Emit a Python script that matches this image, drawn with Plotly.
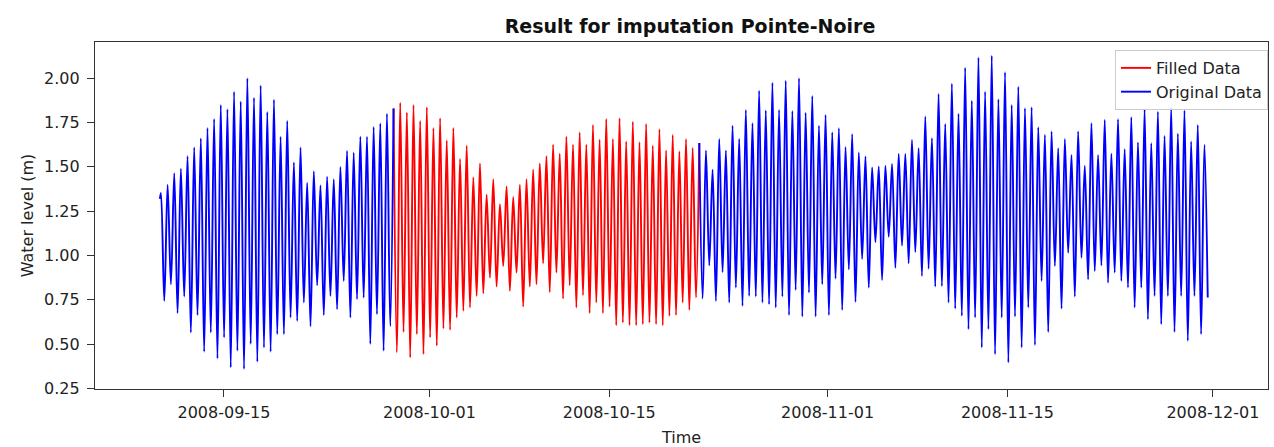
import pandas as pd
import plotly.graph_objects as go

# ---- data ----
# successive high-water levels (m), one per semi-diurnal tidal cycle
high_levels = [
    1.353, 1.40, 1.465, 1.49, 1.56, 1.61, 1.66, 1.72, 1.77, 1.85,
    1.825, 1.925, 1.87, 2.00, 1.89, 1.96, 1.81, 1.88, 1.67, 1.76,
    1.525, 1.61, 1.41, 1.475, 1.395, 1.445, 1.43, 1.50, 1.59, 1.58,
    1.67, 1.67, 1.725, 1.745, 1.80, 1.83,
    1.863, 1.807, 1.85, 1.76, 1.837, 1.72, 1.775, 1.65, 1.72, 1.545,
    1.62, 1.44, 1.52, 1.343, 1.43, 1.29, 1.39, 1.33, 1.40, 1.43,
    1.485, 1.52, 1.56, 1.625, 1.575, 1.67, 1.625, 1.695, 1.625, 1.737,
    1.653, 1.77, 1.657, 1.775, 1.643, 1.755, 1.64, 1.743, 1.62, 1.713,
    1.593, 1.68, 1.587, 1.657, 1.607, 1.635,
    1.593, 1.484, 1.657, 1.593, 1.732, 1.658, 1.822, 1.747, 1.93, 1.818,
    1.975, 1.822, 1.987, 1.816, 2.00, 1.806, 1.90, 1.732, 1.793, 1.694,
    1.719, 1.612, 1.685, 1.581, 1.559, 1.497, 1.503, 1.506, 1.517, 1.574,
    1.574, 1.653, 1.606, 1.784, 1.662, 1.912,
    1.743, 1.97, 1.80, 2.06, 1.874, 2.118, 1.925, 2.127, 1.882, 2.034,
    1.85, 1.953, 1.831, 1.837, 1.724, 1.681, 1.70, 1.606, 1.657, 1.568,
    1.70, 1.506, 1.747, 1.568, 1.765, 1.574, 1.769, 1.60, 1.78, 1.638,
    1.826, 1.634, 1.812, 1.675, 1.837, 1.687, 1.818, 1.643, 1.737, 1.625,
]
# low-water level following each high (m)
low_levels = [
    0.743, 0.837, 0.674, 0.768, 0.565, 0.663, 0.456, 0.565, 0.419, 0.537,
    0.368, 0.462, 0.359, 0.50, 0.40, 0.48, 0.456, 0.556, 0.556, 0.65,
    0.63, 0.734, 0.60, 0.831, 0.663, 0.771, 0.696, 0.856, 0.65, 0.753,
    0.762, 0.50, 0.668, 0.462, 0.60,
    0.452, 0.568, 0.424, 0.556, 0.443, 0.537, 0.49, 0.588, 0.58, 0.65,
    0.687, 0.706, 0.771, 0.786, 0.875, 0.824, 0.94, 0.80, 0.903, 0.711,
    0.824, 0.837, 0.955, 0.793, 0.903, 0.756, 0.831, 0.706, 0.775, 0.674,
    0.734, 0.674, 0.711, 0.606, 0.621, 0.606, 0.606, 0.612, 0.621, 0.612,
    0.606, 0.659, 0.663, 0.734, 0.692, 0.762,
    0.756, 0.944, 0.743, 0.906, 0.734, 0.818, 0.715, 0.771, 0.768, 0.734,
    0.724, 0.706, 0.768, 0.663, 0.805, 0.655, 0.79, 0.655, 0.837, 0.663,
    0.869, 0.692, 0.921, 0.737, 0.98, 0.818, 1.075, 0.861, 1.105, 0.93,
    1.056, 0.955, 1.019, 0.884, 0.925, 0.824, 0.827,
    0.734, 0.70, 0.659, 0.584, 0.65, 0.48, 0.584, 0.443, 0.65, 0.396,
    0.655, 0.48, 0.706, 0.494, 0.856, 0.568, 0.94, 0.70, 1.015, 0.768,
    0.987, 0.865, 0.912, 0.944, 0.846, 0.903, 0.856, 0.818, 0.706, 0.818,
    0.64, 0.771, 0.612, 0.771, 0.568, 0.771, 0.518, 0.771, 0.556, 0.762,
]
start_level = 1.32                   # first recorded value
start_time = "2008-09-10 00:15"
first_high_time = "2008-09-10 02:15"
tide_period_hours = 12.42
filled_first_high = 35               # gap filled from this high ...
filled_last_high = 81                # ... to this high
x_tick_dates = ["2008-09-15", "2008-10-01", "2008-10-15",
                "2008-11-01", "2008-11-15", "2008-12-01"]
y_tick_values = [0.25, 0.50, 0.75, 1.00, 1.25, 1.50, 1.75, 2.00]

# ---- build the time series ----
t0 = pd.Timestamp(first_high_time)
half = pd.Timedelta(hours=tide_period_hours / 2)
times = [pd.Timestamp(start_time)]
levels = [start_level]
for i, (h, l) in enumerate(zip(high_levels, low_levels)):
    times.append(t0 + half * (2 * i))
    levels.append(h)
    times.append(t0 + half * (2 * i + 1))
    levels.append(l)

a = 1 + 2 * filled_first_high
b = 1 + 2 * filled_last_high
orig_t = times[: a + 1] + [None] + times[b:]
orig_v = levels[: a + 1] + [None] + levels[b:]
fill_t = times[a: b + 1]
fill_v = levels[a: b + 1]

font = "DejaVu Sans, Arial, sans-serif"
fig = go.Figure()
fig.add_trace(go.Scatter(x=fill_t, y=fill_v, mode="lines", name="Filled Data",
                         line=dict(color="#ff0000", width=1.9, shape="spline", smoothing=1.0)))
fig.add_trace(go.Scatter(x=orig_t, y=orig_v, mode="lines", name="Original Data",
                         connectgaps=False,
                         line=dict(color="#0000ff", width=1.9, shape="spline", smoothing=1.0)))

fig.update_layout(
    width=1274, height=447,
    margin=dict(l=95, r=6, t=42, b=58),
    paper_bgcolor="white", plot_bgcolor="white",
    font=dict(family=font, size=16, color="#222"),
    title=dict(text="<b>Result for imputation Pointe-Noire</b>", x=0.5416, xanchor="center",
               y=0.94, yanchor="middle", font=dict(size=19, color="#111")),
    legend=dict(x=1.0, xanchor="right", y=0.977, yanchor="top",
                bgcolor="rgba(255,255,255,0.85)", bordercolor="#cccccc", borderwidth=1,
                font=dict(size=16, color="#222"), tracegroupgap=0),
    showlegend=True,
)
fig.update_xaxes(
    range=["2008-09-04 23:00", "2008-12-05 07:00"],
    tickvals=x_tick_dates, tickformat="%Y-%m-%d",
    ticks="outside", ticklen=7, tickcolor="#333",
    showline=True, linecolor="#333", linewidth=1.2, mirror=True,
    showgrid=False, zeroline=False, automargin=False,
    tickfont=dict(size=16), ticklabelstandoff=2,
    title=dict(text="Time", standoff=11, font=dict(size=16, color="#222")),
)
fig.update_yaxes(
    range=[0.246, 2.205],
    tickvals=y_tick_values, tickformat=".2f",
    ticks="outside", ticklen=7, tickcolor="#333",
    showline=True, linecolor="#333", linewidth=1.2, mirror=True,
    showgrid=False, zeroline=False, automargin=False,
    tickfont=dict(size=16), ticklabelstandoff=4,
    title=dict(text="Water level (m)", standoff=6, font=dict(size=16, color="#222")),
)

fig.write_html("out.html")
